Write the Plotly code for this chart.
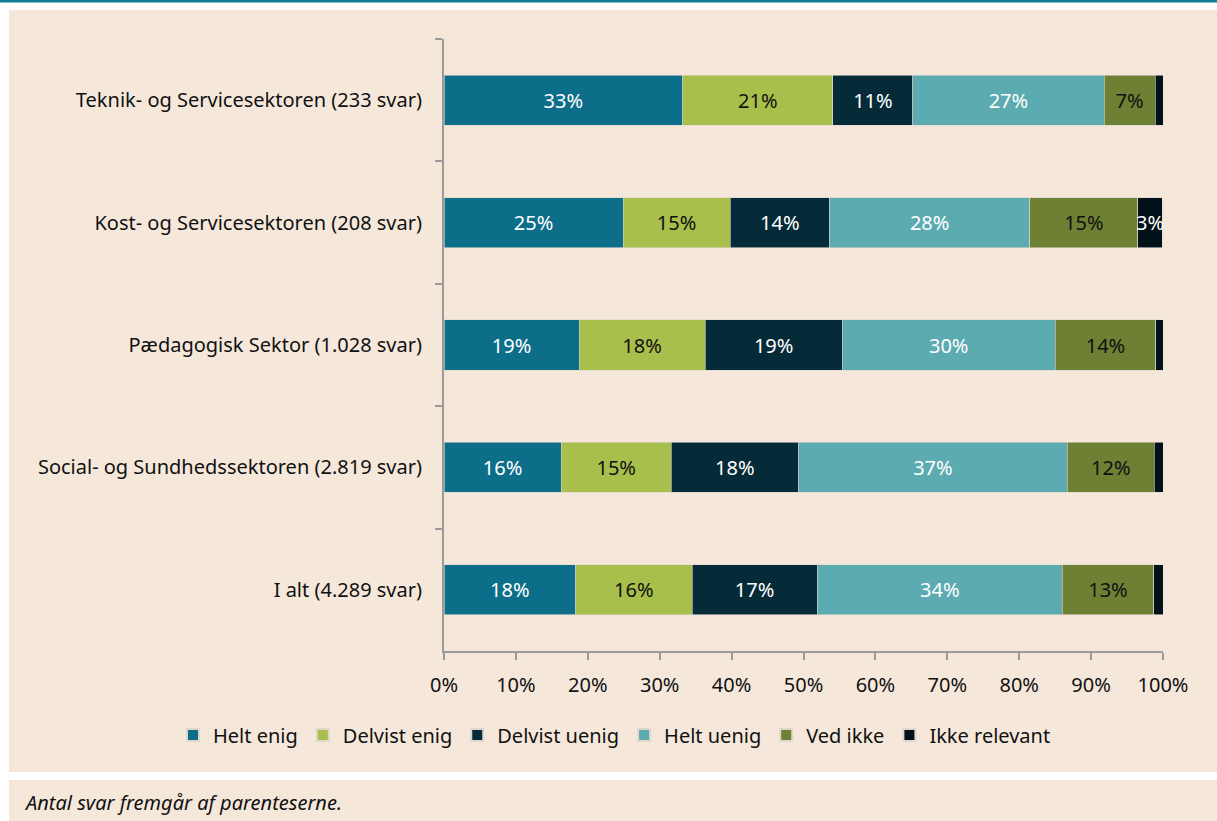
import plotly.graph_objects as go

categories = [
    "Teknik- og Servicesektoren (233 svar)",
    "Kost- og Servicesektoren (208 svar)",
    "Pædagogisk Sektor (1.028 svar)",
    "Social- og Sundhedssektoren (2.819 svar)",
    "I alt (4.289 svar)",
]
series_names = ["Helt enig", "Delvist enig", "Delvist uenig", "Helt uenig", "Ved ikke", "Ikke relevant"]
helt_enig = [33.2, 24.9, 18.8, 16.3, 18.3]
delvist_enig = [20.9, 14.9, 17.5, 15.3, 16.2]
delvist_uenig = [11.1, 13.8, 19.1, 17.7, 17.4]
helt_uenig = [26.6, 27.9, 29.6, 37.4, 34.1]
ved_ikke = [7.1, 15.0, 14.0, 12.1, 12.7]
ikke_relevant = [1.1, 3.4, 1.0, 1.2, 1.3]
xtick_vals = [0, 10, 20, 30, 40, 50, 60, 70, 80, 90, 100]
xtick_text = [f"{v}%" for v in xtick_vals]
footnote = "Antal svar fremgår af parenteserne."

series_values = [helt_enig, delvist_enig, delvist_uenig, helt_uenig, ved_ikke, ikke_relevant]
colors = ["#0d6e8a", "#a8bf4b", "#062b38", "#5babb0", "#6e8034", "#03121a"]
text_colors = ["white", "#111111", "white", "white", "#111111", "white"]

BEIGE = "#f5e8db"
FONT = "Noto Sans"

W, H = 1217, 821
L, R, T, B = 444, 1163, 39, 651
pw, ph = R - L, B - T


def px(x):
    return (x - L) / pw


def py(y):
    return (B - y) / ph


fig = go.Figure()
for name, vals, c, tc in zip(series_names, series_values, colors, text_colors):
    texts = [f"{round(v)}%" if v >= 2 else "" for v in vals]
    fig.add_trace(go.Bar(
        name=name, y=categories, x=vals, orientation="h",
        marker=dict(color=c, line=dict(color="#e0d6cb", width=0.6)),
        text=texts, textposition="inside", insidetextanchor="middle", textangle=0,
        textfont=dict(color=tc, size=20, family=FONT),
        constraintext="none", cliponaxis=False,
        hoverinfo="skip",
    ))

shapes = [
    dict(type="rect", xref="paper", yref="paper", x0=px(0), x1=px(W), y0=py(0), y1=py(2.5),
         fillcolor="#127b98", line=dict(width=0), layer="below"),
    dict(type="rect", xref="paper", yref="paper", x0=px(9), x1=px(W), y0=py(10), y1=py(772),
         fillcolor=BEIGE, line=dict(width=0), layer="below"),
    dict(type="rect", xref="paper", yref="paper", x0=px(9), x1=px(W), y0=py(780), y1=py(H),
         fillcolor=BEIGE, line=dict(width=0), layer="below"),
]

fig.update_layout(
    width=W, height=H,
    margin=dict(l=L, r=W - R, t=T, b=H - B, pad=0, autoexpand=False),
    barmode="stack", bargap=0.59,
    paper_bgcolor="white", plot_bgcolor=BEIGE,
    font=dict(family=FONT, size=20, color="#111111"),
    shapes=shapes,
    showlegend=True,
    legend=dict(orientation="h", xref="paper", yref="paper",
                x=px(173), xanchor="left", y=py(735), yanchor="middle",
                font=dict(size=20, family=FONT, color="#111111"), bgcolor="rgba(0,0,0,0)",
                itemsizing="constant", traceorder="normal", itemwidth=30),
    annotations=[dict(text=footnote, xref="paper", yref="paper", x=px(22), y=py(802),
                      xanchor="left", yanchor="middle", showarrow=False,
                      font=dict(size=20, family=FONT, color="#111111", style="italic"))],
)
fig.update_xaxes(range=[0, 100], tickvals=xtick_vals, ticktext=xtick_text,
                 showgrid=False, zeroline=False, showline=True, linecolor="#9a9a9a", linewidth=2,
                 ticks="outside", ticklen=7, tickcolor="#9a9a9a", tickwidth=2,
                 ticklabelstandoff=8,
                 tickfont=dict(size=20, family=FONT, color="#111111"), fixedrange=True)
fig.update_yaxes(categoryorder="array", categoryarray=categories, autorange="reversed",
                 showgrid=False, zeroline=False, showline=True, linecolor="#9a9a9a", linewidth=2,
                 ticks="outside", ticklen=7, tickcolor="#9a9a9a", tickwidth=2, tickson="boundaries",
                 ticklabelstandoff=16,
                 tickfont=dict(size=20, family=FONT, color="#111111"), fixedrange=True)

fig.write_html("out.html", config={"displayModeBar": False},
               post_script="document.body.style.margin='0';")
